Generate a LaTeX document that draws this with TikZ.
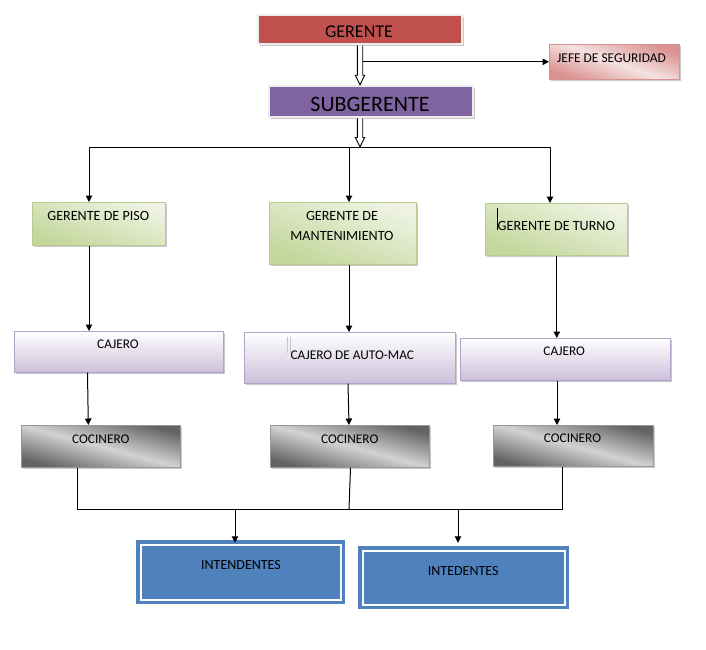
\documentclass[tikz,border=0pt]{standalone}
\usepackage{fontspec}
\setmainfont{Carlito}
\usetikzlibrary{arrows.meta,shadows,calc}
\definecolor{gerred}{HTML}{C0504D}
\definecolor{subpur}{HTML}{8064A2}
\definecolor{pinkd}{HTML}{D99290}
\definecolor{pinkl}{HTML}{F4E2E1}
\definecolor{greend}{HTML}{C3D69B}
\definecolor{greenl}{HTML}{EEF3E2}
\definecolor{greenb}{HTML}{B7CC8E}
\definecolor{lavd}{HTML}{CCC0DA}
\definecolor{lavb}{HTML}{B3A2C7}
\definecolor{grayd}{HTML}{626262}
\definecolor{grayl}{HTML}{D2D2D2}
\definecolor{blueC}{HTML}{4F81BD}
\tikzset{
  shad/.style={drop shadow={shadow xshift=1.5pt,shadow yshift=-1.5pt,opacity=.35,fill=black!60}},
  topbox/.style={rectangle,inner sep=0pt,draw=white!93!black,line width=2.5pt,shad},
  jefebox/.style={rectangle,inner sep=0pt,draw=pinkd,line width=0.6pt,shad,
    top color=pinkd,bottom color=pinkd,middle color=pinkl,shading angle=-20},
  greenbox/.style={rectangle,inner sep=0pt,draw=greenb,line width=0.6pt,shad,
    top color=greenl,bottom color=greend,shading angle=-20},
  lavbox/.style={rectangle,inner sep=0pt,draw=lavb,line width=0.6pt,shad,
    top color=white,bottom color=lavd},
  graybox/.style={rectangle,inner sep=0pt,draw=gray!80,line width=0.6pt,shad,
    top color=grayd,bottom color=grayd,middle color=grayl,shading angle=-15},
  bluebox/.style={rectangle,inner sep=0pt,fill=blueC,draw=blueC,line width=3.5pt,
    double=white,double distance=2pt},
  txt/.style={font=\fontsize{13.3}{16}\selectfont,inner sep=0pt,anchor=base},
  gtxt/.style={txt,font=\fontsize{14.1}{17}\selectfont},
  conn/.style={line width=1pt,black},
  arr/.style={conn,-{Triangle[length=6.5pt,width=6.5pt]}},
  hollow/.style={draw=black,line width=0.9pt,fill=white,line join=miter},
}
\begin{document}
\begin{tikzpicture}[x=1pt,y=-1pt]
\useasboundingbox[fill=white] (0,0) rectangle (706,649);

% top boxes
\node[topbox,fill=gerred,minimum width=204pt,minimum height=29pt] (ger) at (360,29.5) {};
\node[txt,font=\fontsize{18}{20}\selectfont] at (359,37.5) {GERENTE};
\node[topbox,fill=subpur,minimum width=204pt,minimum height=31pt] (sub) at (371,101.5) {};
\node[txt,font=\fontsize{22}{24}\selectfont] at (370,111) {SUBGERENTE};
\node[jefebox,minimum width=130pt,minimum height=35pt,anchor=north west] (jefe) at (549,44) {};
\node[txt,anchor=base west,font=\fontsize{13.4}{15}\selectfont] at (557,62.3) {JEFE DE SEGURIDAD};

% green boxes
\node[greenbox,minimum width=133pt,minimum height=43pt,anchor=north west] (gp) at (32,202) {};
\node[gtxt] at (98.3,220.7) {GERENTE DE PISO};
\node[greenbox,minimum width=147pt,minimum height=62pt,anchor=north west] (gm) at (269,202) {};
\node[gtxt] at (342,220) {GERENTE DE};
\node[gtxt] at (342,240.5) {MANTENIMIENTO};
\node[greenbox,minimum width=142pt,minimum height=52pt,anchor=north west] (gt) at (485,203) {};
\node[gtxt] at (556.3,230) {GERENTE DE TURNO};
\draw[line width=0.8pt] ($(gt.north west)+(12.7,5)$) -- ($(gt.north west)+(12.7,26.5)$);

% lavender boxes
\node[lavbox,minimum width=209pt,minimum height=41pt,anchor=north west] (c1) at (14,331) {};
\node[txt] at (118,348.3) {CAJERO};
\node[lavbox,minimum width=211pt,minimum height=51pt,anchor=north west] (c2) at (244,332) {};
\node[txt] at (352.3,359.3) {CAJERO DE AUTO-MAC};
\draw[gray!45,line width=0.5pt] ($(c2.north west)+(43.3,5)$) -- ($(c2.north west)+(43.3,21)$);
\draw[gray!45,line width=0.5pt] ($(c2.north west)+(46,5)$) -- ($(c2.north west)+(46,21)$);
\node[lavbox,minimum width=210pt,minimum height=42pt,anchor=north west] (c3) at (460,338) {};
\node[txt] at (564.2,355.3) {CAJERO};

% gray boxes
\node[graybox,minimum width=159pt,minimum height=42pt,anchor=north west] (k1) at (21,425) {};
\node[txt] at (100.8,443) {COCINERO};
\node[graybox,minimum width=159pt,minimum height=42pt,anchor=north west] (k2) at (270,425) {};
\node[txt] at (349.7,443) {COCINERO};
\node[graybox,minimum width=160pt,minimum height=41pt,anchor=north west] (k3) at (493,425) {};
\node[txt] at (572.5,442.3) {COCINERO};

% blue boxes
\node[bluebox,minimum width=200pt,minimum height=55pt] (i1) at (240.5,572) {};
\node[txt,font=\fontsize{14}{16}\selectfont] at (241,569.3) {INTENDENTES};
\node[bluebox,minimum width=202pt,minimum height=54pt] (i2) at (463.5,577.5) {};
\node[txt,font=\fontsize{14}{16}\selectfont] at (463.2,575.3) {INTEDENTES};

% hollow arrows
\coordinate (a1t) at (ger.south);
\coordinate (a1b) at (ger.south |- sub.north);
\draw[hollow] ($(a1t)+(-2.7,0)$) -- ($(a1b)+(-2.7,-9.5)$) -- ($(a1b)+(-4.7,-9.5)$) -- (a1b)
  -- ($(a1b)+(4.7,-9.5)$) -- ($(a1b)+(2.7,-9.5)$) -- ($(a1t)+(2.7,0)$);
\coordinate (bl) at (89,147);
\coordinate (bm) at (349,147);
\coordinate (br) at (550,147);
\coordinate (a2t) at (ger.south |- sub.south);
\coordinate (a2b) at (ger.south |- bl);
\draw[hollow] ($(a2t)+(-2.7,0)$) -- ($(a2b)+(-2.7,-9.5)$) -- ($(a2b)+(-4.7,-9.5)$) -- (a2b)
  -- ($(a2b)+(4.7,-9.5)$) -- ($(a2b)+(2.7,-9.5)$) -- ($(a2t)+(2.7,0)$);

% jefe
\coordinate (js) at ($(ger.south |- jefe.west)+(2.7,0)$);
\draw[arr] (js) -- (jefe.west);

% bus to green
\draw[conn] (bl) -- (br);
\draw[arr] (bl) -- (bl |- gp.north);
\draw[arr] (bm) -- (bm |- gm.north);
\draw[arr] (br) -- (br |- gt.north);

% green to cajero
\draw[arr] (bl |- gp.south) -- (bl |- c1.north);
\draw[arr] (bm |- gm.south) -- (bm |- c2.north);
\draw[arr] ($(gt.south)+(0.5,0)$) -- ($(gt.south |- c3.north)+(0.5,0)$);

% cajero to cocinero
\draw[arr] ($(c1.south west)+(73.5,0)$) -- ($(c1.south west |- k1.north)+(74.3,0)$);
\draw[arr] ($(c2.south west)+(104,0)$) -- ($(c2.south west |- k2.north)+(105,0)$);
\draw[arr] ($(c3.south west)+(97,0)$) -- ($(c3.south west |- k3.north)+(97,0)$);

% bottom bus
\coordinate (ql) at (77,509);
\coordinate (qm) at (349,509);
\coordinate (qr) at (562,509);
\draw[conn] (ql |- k1.south) -- (ql) -- (qr) -- (qr |- k3.south);
\draw[conn] ($(qm |- k2.south)+(1.5,0)$) -- (qm);
\coordinate (d1) at (235,509);
\coordinate (d2) at (458,509);
\draw[arr] (d1) -- (d1 |- i1.north);
\draw[arr] (d2) -- ($(d2 |- i1.north)$);
\end{tikzpicture}
\end{document}
